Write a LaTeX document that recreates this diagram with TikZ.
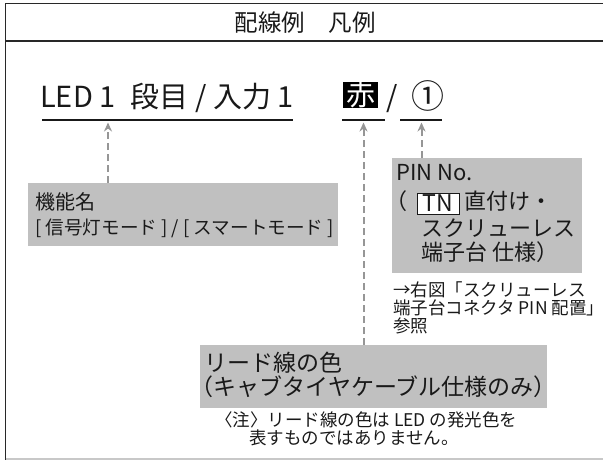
\documentclass[tikz,border=0pt]{standalone}
\usepackage{fontspec}
\setmainfont{Noto Sans CJK JP}
\usetikzlibrary{arrows.meta}
\newcommand\myfs[1]{\fontsize{#1pt}{#1pt}\selectfont}
\definecolor{boxgray}{RGB}{192,192,192}
\definecolor{arrgray}{RGB}{150,150,150}
\definecolor{ink}{RGB}{25,25,25}
\definecolor{framec}{RGB}{40,40,40}
\definecolor{botline}{RGB}{200,200,200}
\begin{document}
\begin{tikzpicture}[x=1pt,y=-1pt,
  txt/.style={inner sep=0pt, text=ink},
  graybox/.style={fill=boxgray, draw=none, inner sep=0pt, anchor=north west},
  arr/.style={draw=arrgray, line width=2pt, dash pattern=on 7pt off 4pt, -{Stealth[length=9pt,width=8pt]}},
  uline/.style={draw=ink, line width=2pt},
  framel/.style={draw=framec, line width=1.8pt}]
\useasboundingbox (0,0) rectangle (603,460);
% frame
\draw[framel] (603,3.5) -- (5.5,3.5) -- (5.5,460);
\draw[framel] (5.5,41) -- (603,41);
\draw[botline, line width=1.5pt] (5.5,459) -- (603,459);
% title
\node[txt, font=\myfs{23.5}, anchor=base] (title) at (305,31.5) {配線例　凡例};
% main line
\node[txt, font=\myfs{29}, anchor=base west] (main) at (40,108) {LED 1\hspace{0.3em} 段目 / 入力 1};
\node[fill=black, text=white, inner sep=0pt, minimum width=35pt, minimum height=26pt, text height=24pt, text depth=2pt, font=\myfs{29}] (aka) at (360.5,95) {赤};
\node[txt, font=\myfs{29}, anchor=base] (sl) at (392,108) {/};
\node[txt, font=\myfs{33}, anchor=base] (maru) at (427.5,108.5) {①};
% underlines
\coordinate (u1a) at (42,120); \coordinate (u1b) at (293,120);
\coordinate (u2a) at (342,120); \coordinate (u2b) at (385,120);
\coordinate (u3a) at (400,120); \coordinate (u3b) at (442,120);
\draw[uline] (u1a) -- (u1b);
\draw[uline] (u2a) -- (u2b);
\draw[uline] (u3a) -- (u3b);
% arrow tips
\coordinate (t1) at (108,122.5);
\coordinate (t2) at (363.5,122.5);
\coordinate (t3) at (421.5,122.5);
% boxes
\node[graybox, minimum width=310pt, minimum height=63pt] (kinou) at (28,183) {};
\node[graybox, minimum width=190pt, minimum height=115pt] (pinbox) at (392,158) {};
\node[graybox, minimum width=347pt, minimum height=63pt] (lead) at (200,345) {};
% arrows
\draw[arr] (kinou.north -| t1) -- (t1);
\draw[arr] (lead.north -| t2) -- (t2);
\draw[arr] (pinbox.north -| t3) -- (t3);
% kinou text
\node[txt, font=\myfs{20}, anchor=base west] (k1) at (35,209.5) {機能名};
\node[txt, font=\myfs{18.6}, anchor=base west] (k2) at (35,234.5) {[ 信号灯モード ] / [ スマートモード ]};
% pin text
\node[txt, font=\myfs{22}, anchor=base west] (p1) at (396,180) {PIN No.};
\node[txt, font=\myfs{22}, anchor=base east] (p2a) at (408,209) {（};
\node[fill=white, draw=ink, line width=0.8pt, inner sep=0pt, minimum width=42pt, minimum height=21pt, text=ink, font=\myfs{23}] (tn) at (438,203.5) {TN};
\node[txt, font=\myfs{22}, anchor=base west] (p2b) at (464,209) {直付け・};
\node[txt, font=\myfs{22}, anchor=base west] (p3) at (421,236) {スクリューレス};
\node[txt, font=\myfs{22}, anchor=base west] (p4) at (421,260.5) {端子台 仕様）};
% reference text
\node[txt, font=\myfs{17.5}, anchor=base west] (r1) at (393,296) {→右図「スクリューレス};
\node[txt, font=\myfs{17.5}, anchor=base west] (r2) at (393,314) {端子台コネクタ PIN 配置」};
\node[txt, font=\myfs{17.5}, anchor=base west] (r3) at (393,332) {参照};
% lead text
\node[txt, font=\myfs{23}, anchor=base west] (l1) at (204,371.5) {リード線の色};
\node[txt, font=\myfs{23}, anchor=base west] (l2) at (201,395.5) {\kern-0.45em（キャブタイヤケーブル仕様のみ）};
% note
\node[txt, font=\myfs{17.5}, anchor=base west] (n1) at (215,426.3) {〈注〉リード線の色は LED の発光色を};
\node[txt, font=\myfs{17.5}, anchor=base west] (n2) at (249,444.8) {表すものではありません。};
\end{tikzpicture}
\end{document}
